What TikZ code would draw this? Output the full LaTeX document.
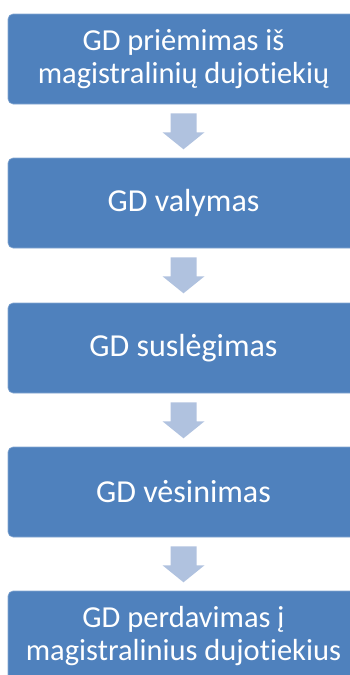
\documentclass[tikz,border=0pt]{standalone}
\usepackage{fontspec}
\setmainfont{Carlito}[Ligatures=NoCommon]
\usetikzlibrary{calc}

\definecolor{boxblue}{RGB}{79,129,189}
\definecolor{arrowblue}{RGB}{176,194,223}

\begin{document}
\begin{tikzpicture}[x=1pt,y=1pt,
  stepbox/.style={fill=boxblue, draw=boxblue!70!white, line width=0.6pt, rounded corners=5pt,
    minimum width=351pt, minimum height=90pt, inner sep=0pt, text=white, align=center},
  twoline/.style={font=\fontsize{30.5}{33.5}\selectfont},
  oneline/.style={font=\fontsize{32}{36}\selectfont},
  downarrow/.style={fill=arrowblue, draw=none}]
\useasboundingbox (0,0) rectangle (350,-675);
\clip (0,0) rectangle (350,-675);

% etapai
\node[stepbox, twoline] (s1) at(183.5,-59) {GD priėmimas iš\\magistralinių dujotiekių};
\node[stepbox, oneline] (s2) at(183.5,-203) {GD valymas};
\node[stepbox, oneline] (s3) at(183.5,-348) {GD suslėgimas};
\node[stepbox, oneline] (s4) at(183.5,-492) {GD vėsinimas};
\node[stepbox, twoline] (s5) at(183.5,-636) {GD perdavimas į\\magistralinius dujotiekius};

% rodyklės
\fill[downarrow] ($(s1.south)+(-13,-9)$) -- ++(26,0) -- ++(0,-19) -- ++(8,0) -- ++(-21,-17) -- ++(-21,17) -- ++(8,0) -- cycle;
\fill[downarrow] ($(s2.south)+(-13,-9)$) -- ++(26,0) -- ++(0,-19) -- ++(8,0) -- ++(-21,-17) -- ++(-21,17) -- ++(8,0) -- cycle;
\fill[downarrow] ($(s3.south)+(-13,-9)$) -- ++(26,0) -- ++(0,-19) -- ++(8,0) -- ++(-21,-17) -- ++(-21,17) -- ++(8,0) -- cycle;
\fill[downarrow] ($(s4.south)+(-13,-9)$) -- ++(26,0) -- ++(0,-19) -- ++(8,0) -- ++(-21,-17) -- ++(-21,17) -- ++(8,0) -- cycle;

\end{tikzpicture}
\end{document}
